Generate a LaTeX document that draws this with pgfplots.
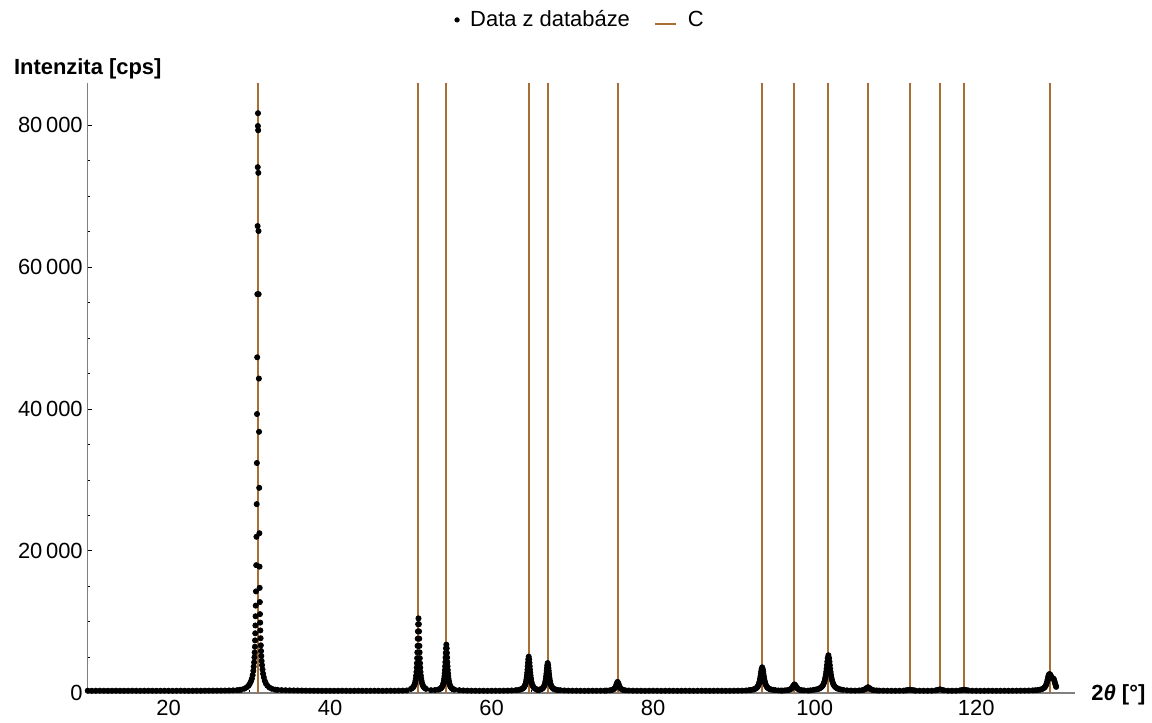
\documentclass[border=0pt]{standalone}
\usepackage{fontspec}
\setmainfont{Liberation Sans}
\usepackage{pgfplots}
\pgfplotsset{compat=1.18}
\usetikzlibrary{calc}
\definecolor{cline}{RGB}{168,110,52}

\begin{document}
\begin{tikzpicture}
\begin{axis}[
  width=495pt, height=306pt, scale only axis,
  xmin=10, xmax=132.2, ymin=0, ymax=86000,
  axis lines=left,
  axis line style={-, draw=gray, line width=0.65pt},
  clip=false,
  xtick={20,40,...,120}, ytick={0,20000,40000,60000,80000},
  minor y tick num=3, minor x tick num=3,
  tick align=inside,
  major tick length=2pt, minor tick length=1.2pt,
  tick style={black, line width=0.5pt},
  scaled y ticks=false,
  /pgf/number format/1000 sep={\,},
  /pgf/number format/assume math mode=true,
  tick label style={font=\fontsize{11}{13}\selectfont},
  yticklabel style={xshift=1pt},
  legend style={at={(0.5,1.103)}, anchor=center, draw=none, fill=none,
    legend columns=-1, font=\fontsize{11}{13}\selectfont,
    /tikz/every odd column/.append style={column sep=3.5pt},
    /tikz/every even column/.append style={column sep=10pt}},
]
% reference lines for C
\addplot[cline, line width=1pt, ycomb, forget plot] coordinates {
  (31.08,86000)(50.95,86000)(54.40,86000)(64.60,86000)(66.95,86000)
  (75.60,86000)(93.50,86000)(97.50,86000)(101.70,86000)(106.60,86000)
  (111.80,86000)(115.50,86000)(118.50,86000)(129.10,86000)};

% measured pattern
\addplot[only marks, mark=*, mark size=1.3pt, black, forget plot] coordinates {
  (10,300)(10.5,295)(11,300)(11.5,305)(12,300)(12.5,295)(13,300)(13.5,305)(14,300)(14.5,295)
  (15,300)(15.5,305)(16,300)(16.5,295)(17,300)(17.5,305)(18,300)(18.5,295)(19,300)(19.5,305)
  (20,300)(20.5,295)(21,300)(21.5,305)(22,300)(22.5,295)(23,300)(23.5,305)(24,300)(24.5,310)
  (25,310)(25.5,315)(26,320)(26.5,325)(27,330)(27.5,340)(28,355)(28.5,380)
  (33.5,420)(34,390)(34.5,370)(35,355)(35.5,345)(36,340)(36.5,330)(37,320)(37.5,315)(38,310)
  (38.5,305)(39,300)(39.5,300)(40,300)(40.5,295)(41,300)(41.5,305)(42,300)(42.5,295)(43,300)
  (43.5,305)(44,300)(44.5,295)(45,300)(45.5,305)(46,300)(46.5,295)(47,300)(47.5,305)(48,300)
  (48.5,310)(49,320)(49.5,340)(52.5,380)(53,400)(56,380)(56.5,340)(57,320)(57.5,310)(58,305)
  (58.5,300)(59,300)(59.5,295)(60,300)(60.5,305)(61,300)(61.5,310)(62,320)(62.5,340)(63,380)
  (68.5,380)(69,340)(69.5,320)(70,310)(70.5,305)(71,300)(71.5,295)(72,300)(72.5,305)(73,300)
  (73.5,305)(74,310)(77.5,310)(78,305)(78.5,300)(79,295)(79.5,300)(80,305)(80.5,300)(81,295)
  (81.5,300)(82,305)(82.5,300)(83,295)(83.5,300)(84,305)(84.5,300)(85,295)(85.5,300)(86,305)
  (86.5,300)(87,295)(87.5,300)(88,305)(88.5,300)(89,295)(89.5,300)(90,305)(90.5,310)(91,320)
  (91.5,340)(95.5,340)(96,320)(99.5,360)(104,360)(104.5,330)(105,320)(108,320)(108.5,310)(109,305)
  (109.5,300)(110,300)(110.5,305)(111,310)(112.5,310)(113,305)(113.5,300)(114,300)(114.5,305)
  (116.5,305)(117,300)(117.5,305)(119.5,305)(120,300)(120.5,295)(121,300)(121.5,305)(122,300)
  (122.5,295)(123,300)(123.5,305)(124,300)(124.5,305)(125,310)(125.5,315)(126,320)(126.5,330)
  (127,350)(127.3,370)
  % main peak near 31
  (28.8,420)(29.0,450)(29.4,600)(29.7,800)(29.9,1000)(30.05,1250)(30.2,1600)(30.32,2000)(30.42,2500)
  (30.5,3100)(30.55,3700)(30.6,4300)(30.64,5000)(30.67,5700)(30.70,6500)(30.72,7400)(30.74,8400)
  (30.76,9500)(30.78,10800)(30.80,12300)(30.83,14300)(30.86,18000)(30.89,22000)(30.92,26600)
  (30.94,32400)(30.96,39300)(30.98,47300)(31.00,56200)(31.03,65800)(31.05,74100)(31.07,79900)
  (31.08,81700)
  (31.10,79300)(31.12,73300)(31.14,65100)(31.16,56200)(31.19,44300)(31.21,36800)(31.23,28900)
  (31.25,22500)(31.27,17800)(31.29,14800)(31.31,12800)(31.33,11100)(31.35,9900)(31.37,8800)
  (31.40,7700)(31.43,6700)(31.46,5900)(31.49,5200)(31.53,4500)(31.58,3900)(31.64,3300)
  (31.71,2700)(31.80,2200)(31.92,1700)(32.07,1300)(32.25,1000)(32.5,750)(32.8,580)(33.2,450)
  % peak near 51
  (50.95,10500)(50.906,9680)(50.880,8660)(50.856,7640)(50.833,6620)(50.809,5710)(50.784,4890)
  (50.758,4180)(50.731,3560)(50.697,2950)(50.659,2440)(50.618,2030)(50.578,1730)(50.524,1420)
  (50.458,1170)(50.381,960)(50.296,810)(50.162,660)(50.014,560)
  (50.994,9680)(51.020,8660)(51.044,7640)(51.067,6620)(51.091,5710)(51.116,4890)(51.142,4180)
  (51.169,3560)(51.203,2950)(51.241,2440)(51.282,2030)(51.322,1730)(51.376,1420)(51.442,1170)
  (51.519,960)(51.604,810)(51.738,660)(51.886,560)
  % peak near 54.4
  (54.40,6800)(54.353,6280)(54.325,5630)(54.300,4980)(54.275,4330)(54.249,3750)(54.223,3230)
  (54.196,2770)(54.167,2380)(54.130,1990)(54.090,1670)(54.046,1410)(54.003,1210)(53.946,1020)
  (53.875,850)(53.794,720)(53.702,630)(53.560,530)(53.402,460)
  (54.447,6280)(54.475,5630)(54.500,4980)(54.525,4330)(54.551,3750)(54.577,3230)(54.604,2770)
  (54.633,2380)(54.670,1990)(54.710,1670)(54.754,1410)(54.797,1210)(54.854,1020)(54.925,850)
  (55.006,720)(55.098,630)(55.240,530)(55.398,460)
  % peak near 64.6
  (64.60,5100)(64.541,4720)(64.506,4240)(64.475,3760)(64.443,3280)(64.412,2840)(64.379,2460)
  (64.345,2120)(64.308,1840)(64.263,1550)(64.212,1310)(64.158,1120)(64.104,970)(64.032,830)
  (63.944,710)(63.842,610)(63.728,540)(63.55,470)(63.352,420)
  (64.659,4720)(64.694,4240)(64.725,3760)(64.757,3280)(64.788,2840)(64.821,2460)(64.855,2120)
  (64.892,1840)(64.937,1550)(64.988,1310)(65.042,1120)(65.096,970)(65.168,830)(65.256,710)
  (65.358,610)(65.472,540)(65.65,470)(65.848,420)
  % peak near 67
  (66.95,4200)(66.891,3890)(66.856,3500)(66.825,3110)(66.793,2720)(66.762,2370)(66.729,2060)
  (66.695,1780)(66.658,1550)(66.613,1310)(66.562,1120)(66.508,960)(66.454,850)(66.382,730)
  (66.294,630)(66.192,550)(66.078,500)(65.90,440)(65.702,400)
  (67.009,3890)(67.044,3500)(67.075,3110)(67.107,2720)(67.138,2370)(67.171,2060)(67.205,1780)
  (67.242,1550)(67.287,1310)(67.338,1120)(67.392,960)(67.446,850)(67.518,730)(67.606,630)
  (67.708,550)(67.822,500)(68.0,440)(68.198,400)
  % peak near 75.6
  (75.6,1550)(75.497,1330)(75.428,1080)(75.357,860)(75.279,700)(75.173,560)(75.054,480)
  (74.878,410)(74.641,360)(74.227,330)
  (75.703,1330)(75.772,1080)(75.843,860)(75.921,700)(76.027,560)(76.146,480)(76.322,410)
  (76.559,360)(76.973,330)
  % peak near 93.5
  (93.50,3600)(93.423,3340)(93.378,3010)(93.338,2680)(93.296,2350)(93.255,2050)(93.212,1790)
  (93.168,1550)(93.121,1360)(93.061,1160)(92.996,990)(92.925,860)(92.855,760)(92.762,660)
  (92.647,580)(92.515,510)(92.366,470)(92.135,420)(91.878,380)
  (93.577,3340)(93.622,3010)(93.662,2680)(93.704,2350)(93.745,2050)(93.788,1790)(93.832,1550)
  (93.879,1360)(93.939,1160)(94.004,990)(94.075,860)(94.145,760)(94.238,660)(94.353,580)
  (94.485,510)(94.634,470)(94.865,420)(95.122,380)
  % peak near 97.5
  (97.5,1200)(97.373,1040)(97.289,860)(97.201,710)(97.106,590)(96.976,490)(96.83,430)
  (96.614,380)(96.323,350)(95.815,320)
  (97.627,1040)(97.711,860)(97.799,710)(97.894,590)(98.024,490)(98.17,430)(98.386,380)
  (98.677,350)(99.185,320)
  % peak near 101.7
  (101.70,5300)(101.614,4900)(101.564,4400)(101.519,3900)(101.473,3400)(101.427,2950)
  (101.379,2550)(101.33,2200)(101.277,1900)(101.211,1600)(101.137,1350)(101.059,1150)
  (100.981,1000)(100.876,850)(100.749,730)(100.601,630)(100.436,550)(100.177,480)(99.89,430)
  (101.786,4900)(101.836,4400)(101.881,3900)(101.927,3400)(101.973,2950)(102.021,2550)
  (102.07,2200)(102.123,1900)(102.189,1600)(102.263,1350)(102.341,1150)(102.419,1000)
  (102.524,850)(102.651,730)(102.799,630)(102.964,550)(103.223,480)(103.51,430)
  % small peaks
  (106.6,800)(106.427,680)(106.3,550)(106.142,450)(105.886,380)(105.506,340)
  (106.773,680)(106.9,550)(107.058,450)(107.314,380)(107.694,340)
  (111.8,450)(111.55,410)(112.05,410)(111.3,360)(112.3,360)
  (115.5,500)(115.25,430)(115.75,430)(115.0,360)(116.0,360)
  (118.5,450)(118.25,400)(118.75,400)(118.0,350)(119.0,350)
  % doublet near 129
  (127.6,400)(127.9,450)(128.1,520)(128.3,620)(128.45,760)(128.55,900)(128.65,1100)
  (128.72,1350)(128.78,1600)(128.84,1900)(128.9,2200)(128.96,2450)(129.02,2600)(129.08,2650)
  (129.14,2600)(129.2,2500)(129.26,2350)(129.32,2200)(129.38,2100)(129.44,2050)(129.5,2050)
  (129.56,2000)(129.62,1900)(129.68,1700)(129.74,1450)(129.8,1200)(129.86,1000)(129.9,850)
};

\addlegendimage{only marks, mark=*, mark size=1.1pt, black}
\addlegendentry{Data z databáze}
\addlegendimage{legend image code/.code={\draw[cline, line width=1pt] (0pt,-2pt) -- (10.5pt,-2pt);}}
\addlegendentry{C}

\node[anchor=base, yshift=4pt, font=\bfseries\fontsize{11}{13}\selectfont]
  at (rel axis cs:0,1) {Intenzita [cps]};
\node[anchor=base west, xshift=4.85pt, yshift=-3.85pt, font=\bfseries\fontsize{11}{13}\selectfont]
  at (rel axis cs:1,0) {2\textit{θ} [°]};
\coordinate (bl) at (rel axis cs:0,0);
\coordinate (tr) at (rel axis cs:1,1);
\end{axis}
\path ($(bl)+(-44pt,-14.5pt)$) rectangle ($(tr)+(37pt,41.5pt)$);
\end{tikzpicture}
\end{document}
